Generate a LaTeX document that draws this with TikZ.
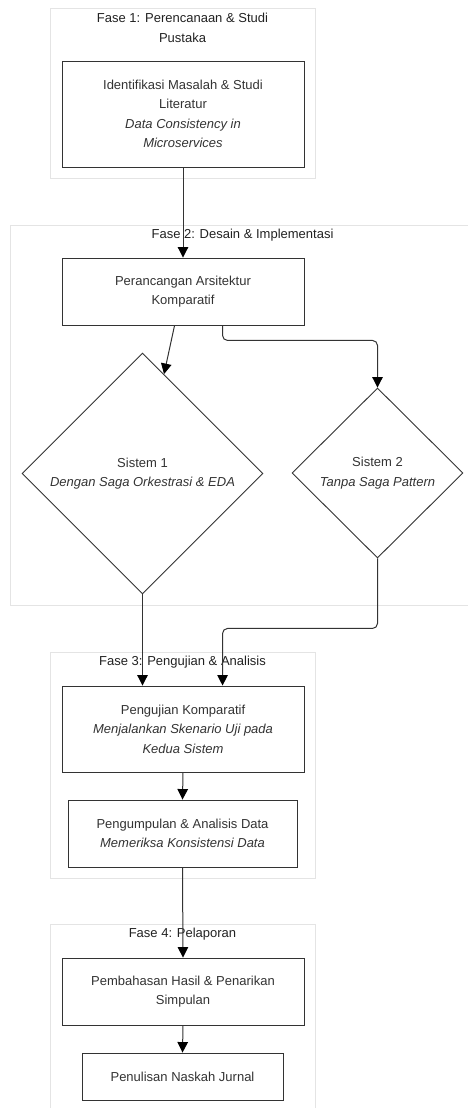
\documentclass[tikz,border=0pt]{standalone}
\usepackage{fontspec}
\setmainfont{Liberation Sans}
\usetikzlibrary{shapes.geometric,arrows.meta,calc}
\definecolor{txt}{HTML}{333333}
\definecolor{ttl}{HTML}{222222}
\definecolor{edge}{HTML}{333333}
\definecolor{clus}{HTML}{E4E4E4}
\begin{document}
\begin{tikzpicture}[x=1pt,y=-1pt,
  every node/.style={font=\fontsize{13}{19.5}\selectfont},
  cluster/.style={draw=clus,line width=0.8pt,fill=white},
  ctitle/.style={text=ttl,align=center,inner sep=0pt},
  proc/.style={draw=edge,line width=0.9pt,fill=white,text=txt,align=center,inner sep=0pt},
  dec/.style={diamond,draw=edge,line width=0.9pt,fill=white,text=txt,align=center,inner sep=0pt},
  link/.style={draw=edge,line width=1pt,-{Triangle[length=10.5pt,width=10.5pt,color=black]},rounded corners=5pt}]
\useasboundingbox (0,0) rectangle (467,1108);
% clusters
\draw[cluster] (50,8) rectangle (315,178);
\node[ctitle] (t1) at (182.5,28) {Fase 1: Perencanaan \& Studi\\Pustaka};
\draw[cluster] (10,225) rectangle (480,605);
\node[ctitle] (t2) at (242.5,235) {Fase 2: Desain \& Implementasi};
\draw[cluster] (50,652) rectangle (315,878);
\node[ctitle] (t3) at (182.5,662) {Fase 3: Pengujian \& Analisis};
\draw[cluster] (50,924) rectangle (315,1120);
\node[ctitle] (t4) at (182.5,934) {Fase 4: Pelaporan};
% nodes
\node[proc,minimum width=242pt,minimum height=106pt] (n1) at (183,114)
  {Identifikasi Masalah \& Studi\\Literatur\\\textit{Data Consistency in}\\\textit{Microservices}};
\node[proc,minimum width=242pt,minimum height=67pt] (n2) at (183,291.5)
  {Perancangan Arsitektur\\Komparatif};
\node[dec,minimum width=241pt,minimum height=241pt] (d1) at (142.5,473.5)
  {Sistem 1\\\textit{Dengan Saga Orkestrasi \& EDA}};
\node[dec,minimum width=171pt,minimum height=170pt] (d2) at (377.5,473)
  {Sistem 2\\\textit{Tanpa Saga Pattern}};
\node[proc,minimum width=242pt,minimum height=86pt] (n3) at (183,729)
  {Pengujian Komparatif\\\textit{Menjalankan Skenario Uji pada}\\\textit{Kedua Sistem}};
\node[proc,minimum width=229pt,minimum height=67pt] (n4) at (182.5,833.5)
  {Pengumpulan \& Analisis Data\\\textit{Memeriksa Konsistensi Data}};
\node[proc,minimum width=242pt,minimum height=67pt] (n5) at (183,991.5)
  {Pembahasan Hasil \& Penarikan\\Simpulan};
\node[proc,minimum width=201pt,minimum height=47pt] (n6) at (182.5,1076.5)
  {Penulisan Naskah Jurnal};
% edges
\draw[link] (n1.south) -- (n2.north);
\draw[link] ($(n2.south west)+(113,0)$) -- (d1);
\draw[link] ($(n2.south west)+(161,0)$) -- ++(0,15) -| (d2.north);
\draw[link] (d1.south) -- (d1.south |- n3.north);
\draw[link] (d2.south) -- ++(0,70) -| ($(n3.north west)+(161,0)$);
\draw[link] (n3.south) -- (n4.north);
\draw[link] (n4.south) -- (n5.north);
\draw[link] (n5.south) -- (n6.north);
\end{tikzpicture}
\end{document}
